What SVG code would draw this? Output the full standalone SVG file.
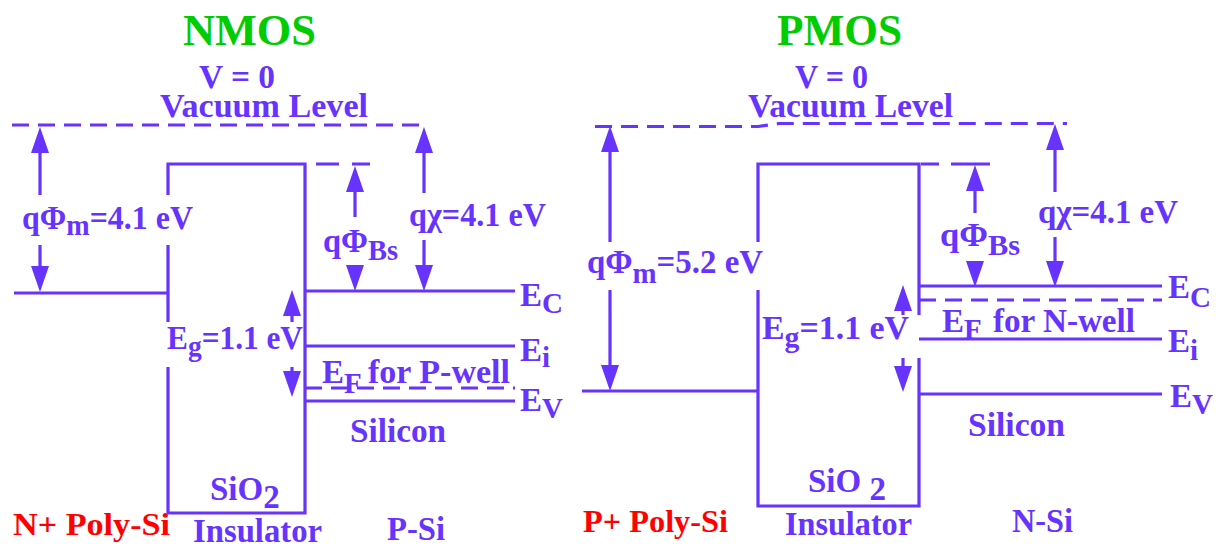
<svg xmlns="http://www.w3.org/2000/svg" xmlns:xlink="http://www.w3.org/1999/xlink" width="1220" height="546" viewBox="0 0 1220 546">
<style>
.t{font-family:"Liberation Serif","Times New Roman",serif;font-weight:bold;fill:#6633FF;font-size:33px}
.title{font-family:"Liberation Serif","Times New Roman",serif;font-weight:bold;fill:#00CC00;font-size:44px}
.red{font-family:"Liberation Serif","Times New Roman",serif;font-weight:bold;fill:#FF0000;font-size:32px}
.sub{font-size:29px}
.ln{stroke:#6633FF;stroke-width:3.2;fill:none}
.dash{stroke:#6633FF;stroke-width:3.2;fill:none;stroke-dasharray:17 9}
.ah{fill:#6633FF}
</style>
<defs>
<path id="up" class="ah" d="M0,0 L-9,26 L9,26 Z"/>
<path id="dn" class="ah" d="M0,0 L-9,-26 L9,-26 Z"/>
</defs>
<rect width="1220" height="546" fill="#fff"/>

<!-- ================= NMOS ================= -->
<g id="nmos">
<text class="title" x="183" y="45" textLength="133" lengthAdjust="spacingAndGlyphs">NMOS</text>
<text class="t" x="199" y="88" textLength="76" lengthAdjust="spacingAndGlyphs">V = 0</text>
<text class="t" x="160" y="117" textLength="208" lengthAdjust="spacingAndGlyphs">Vacuum Level</text>

<g id="nmos-levels">
<line class="dash" x1="12" y1="125" x2="427" y2="125"/>
<line class="ln" x1="14" y1="293" x2="168" y2="293"/>
<path class="ln" d="M168,195 V164 H305 V513 H168 V367 M168,322 V245"/>
<line class="dash" x1="316" y1="164" x2="370" y2="164" style="stroke-dasharray:23 13"/>
<line class="ln" x1="305" y1="291" x2="515" y2="291"/>
<line class="ln" x1="305" y1="346" x2="515" y2="346"/>
<line class="ln" x1="305" y1="401" x2="515" y2="401"/>
<line class="dash" x1="305" y1="388" x2="515" y2="388"/>
</g>

<g id="nmos-arrows">
<line class="ln" x1="40" y1="150" x2="40" y2="195"/><use xlink:href="#up" x="40" y="127"/>
<line class="ln" x1="40" y1="245" x2="40" y2="270"/><use xlink:href="#dn" x="40" y="292"/>
<line class="ln" x1="355" y1="188" x2="355" y2="217"/><use xlink:href="#up" x="355" y="166"/>
<use xlink:href="#dn" x="355" y="291"/>
<line class="ln" x1="424" y1="150" x2="424" y2="193"/><use xlink:href="#up" x="424" y="127"/>
<line class="ln" x1="424" y1="240" x2="424" y2="268"/><use xlink:href="#dn" x="424" y="291"/>
<line class="ln" x1="292" y1="312" x2="292" y2="322"/><use xlink:href="#up" x="292" y="290"/>
<line class="ln" x1="292" y1="367" x2="292" y2="375"/><use xlink:href="#dn" x="292" y="397"/>
</g>

<g id="nmos-labels">
<text class="t" x="22" y="229" textLength="171" lengthAdjust="spacingAndGlyphs">qΦ<tspan class="sub" dy="6">m</tspan><tspan dy="-6">=4.1 eV</tspan></text>
<text class="t" x="323" y="252" textLength="75" lengthAdjust="spacingAndGlyphs">qΦ<tspan class="sub" dy="8">Bs</tspan></text>
<text class="t" x="409" y="226" textLength="137" lengthAdjust="spacingAndGlyphs">qχ=4.1 eV</text>
<text class="t" x="167" y="349" textLength="136" lengthAdjust="spacingAndGlyphs">E<tspan class="sub" dy="7">g</tspan><tspan dy="-7">=1.1 eV</tspan></text>
<text class="t" x="322" y="383">E<tspan class="sub" dy="10">F</tspan></text>
<text class="t" x="368" y="383" textLength="142" lengthAdjust="spacingAndGlyphs">for P-well</text>
<text class="t" x="520" y="306">E<tspan class="sub" dy="7">C</tspan></text>
<text class="t" x="520" y="361">E<tspan class="sub" dy="6">i</tspan></text>
<text class="t" x="520" y="411">E<tspan class="sub" dy="7">V</tspan></text>
<text class="t" x="350" y="442" textLength="96" lengthAdjust="spacingAndGlyphs">Silicon</text>
<text class="t" x="210" y="500">SiO<tspan dy="8">2</tspan></text>
<text class="t" x="193" y="542" textLength="129" lengthAdjust="spacingAndGlyphs">Insulator</text>
<text class="t" x="387" y="540" textLength="58" lengthAdjust="spacingAndGlyphs">P-Si</text>
<text class="red" x="13" y="535" textLength="157" lengthAdjust="spacingAndGlyphs">N+ Poly-Si</text>
</g>
</g>

<!-- ================= PMOS ================= -->
<g id="pmos">
<text class="title" x="777" y="45" textLength="125" lengthAdjust="spacingAndGlyphs">PMOS</text>
<text class="t" x="795" y="88" textLength="73" lengthAdjust="spacingAndGlyphs">V = 0</text>
<text class="t" x="748" y="117" textLength="205" lengthAdjust="spacingAndGlyphs">Vacuum Level</text>

<g id="pmos-levels">
<polyline class="dash" points="595,126.5 758,126.5 779,123.5 1067,123.5"/>
<line class="ln" x1="582" y1="391" x2="758" y2="391"/>
<path class="ln" d="M758,242 V164 H919 V315 M919,358 V506 H758 V290"/>
<line class="dash" x1="921" y1="164" x2="990" y2="164" style="stroke-dasharray:18 12 40"/>
<line class="ln" x1="919" y1="286" x2="1162" y2="286"/>
<line class="dash" x1="919" y1="300" x2="1162" y2="300"/>
<line class="ln" x1="919" y1="339" x2="1162" y2="339"/>
<line class="ln" x1="919" y1="394" x2="1162" y2="394"/>
</g>

<g id="pmos-arrows">
<line class="ln" x1="610" y1="150" x2="610" y2="242"/><use xlink:href="#up" x="610" y="126"/>
<line class="ln" x1="610" y1="290" x2="610" y2="368"/><use xlink:href="#dn" x="610" y="391"/>
<line class="ln" x1="975" y1="188" x2="975" y2="213"/><use xlink:href="#up" x="975" y="165"/>
<use xlink:href="#dn" x="975" y="287"/>
<line class="ln" x1="1055" y1="146" x2="1055" y2="192"/><use xlink:href="#up" x="1055" y="124"/>
<line class="ln" x1="1055" y1="237" x2="1055" y2="264"/><use xlink:href="#dn" x="1055" y="287"/>
<line class="ln" x1="903" y1="308" x2="903" y2="315"/><use xlink:href="#up" x="903" y="285"/>
<line class="ln" x1="903" y1="358" x2="903" y2="368"/><use xlink:href="#dn" x="903" y="392"/>
</g>

<g id="pmos-labels">
<text class="t" x="587" y="273" textLength="176" lengthAdjust="spacingAndGlyphs">qΦ<tspan class="sub" dy="10">m</tspan><tspan dy="-10">=5.2 eV</tspan></text>
<text class="t" x="940" y="246" textLength="80" lengthAdjust="spacingAndGlyphs">qΦ<tspan class="sub" dy="9">Bs</tspan></text>
<text class="t" x="1038" y="223" textLength="140" lengthAdjust="spacingAndGlyphs">qχ=4.1 eV</text>
<text class="t" x="762" y="339" textLength="147" lengthAdjust="spacingAndGlyphs">E<tspan class="sub" dy="8">g</tspan><tspan dy="-8">=1.1 eV</tspan></text>
<text class="t" x="942" y="332">E<tspan class="sub" dy="7">F</tspan></text>
<text class="t" x="993" y="332" textLength="142" lengthAdjust="spacingAndGlyphs">for N-well</text>
<text class="t" x="1168" y="298">E<tspan class="sub" dy="9">C</tspan></text>
<text class="t" x="1168" y="352">E<tspan class="sub" dy="8">i</tspan></text>
<text class="t" x="1170" y="407">E<tspan class="sub" dy="7">V</tspan></text>
<text class="t" x="968" y="436" textLength="97" lengthAdjust="spacingAndGlyphs">Silicon</text>
<text class="t" x="808" y="492">SiO<tspan dy="8"> 2</tspan></text>
<text class="t" x="785" y="535" textLength="127" lengthAdjust="spacingAndGlyphs">Insulator</text>
<text class="t" x="1012" y="532" textLength="61" lengthAdjust="spacingAndGlyphs">N-Si</text>
<text class="red" x="583" y="532" textLength="145" lengthAdjust="spacingAndGlyphs">P+ Poly-Si</text>
</g>
</g>
</svg>
